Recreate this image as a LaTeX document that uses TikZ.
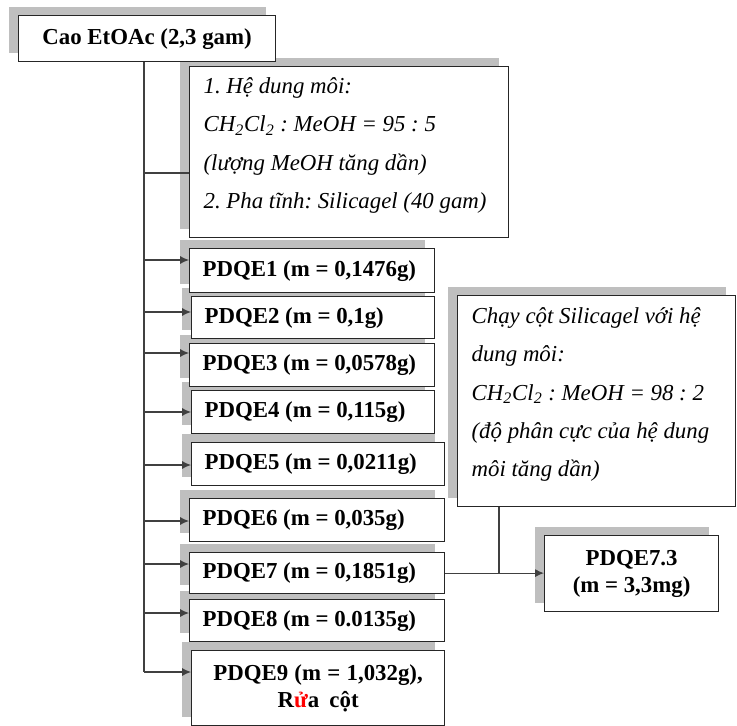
\documentclass[tikz,border=0pt]{standalone}
\usepackage{fontspec}
\setmainfont{Liberation Serif}
\usepackage{tikz}
\usetikzlibrary{shadows}
\usetikzlibrary{arrows.meta}
\usetikzlibrary{positioning}

\begin{document}
\begin{tikzpicture}[x=0.02cm,y=-0.02cm,
  font=\fontsize{13}{15.3}\selectfont,
  every node/.style={execute at begin node={\frenchspacing\spaceskip=0pt\xspaceskip=0pt}},
  sh/.style={general shadow={fill=black!25, shadow xshift=-0.19cm, shadow yshift=0.18cm}},
  rbox/.style={draw=black!85, line width=0.7pt, fill=white, sh, anchor=north west,
    font=\bfseries\fontsize{13}{15.3}\selectfont, align=center, inner sep=0pt},
  ebox/.style={draw=black!85, line width=0.7pt, fill=white, sh, anchor=north west,
    font=\bfseries\fontsize{13}{15.3}\selectfont, align=left, inner xsep=0.26cm, inner ysep=0pt, text width=#1},
  nbox/.style={draw=black!85, line width=0.7pt, fill=white, sh, anchor=north west,
    font=\itshape\fontsize{13}{21.8}\selectfont, align=left, inner xsep=0.28cm, inner ysep=0pt, text width=#1},
  conn/.style={draw=black!75, line width=0.65pt},
  arr/.style={conn, -{Latex[length=5pt,width=4.5pt]}}
  ]
\useasboundingbox (0,0) rectangle (737,726);
% fractions bottom up, so each shadow goes under the box above it
\node[ebox=4.54cm, align=center, minimum height=1.5cm] (e9) at (191,650) {PDQE9 (m = 1,032g),\\ R{\color{red}ử}a cột};
\node[ebox=4.58cm, minimum height=0.84cm] (e8) at (189,599) {PDQE8 (m = 0.0135g)};
\node[ebox=4.58cm, minimum height=0.82cm] (e7) at (189,552) {PDQE7 (m = 0,1851g)};
\node[ebox=4.58cm, minimum height=0.86cm] (e6) at (189,498) {PDQE6 (m = 0,035g)};
\node[ebox=4.54cm, minimum height=0.86cm] (e5) at (191,442) {PDQE5 (m = 0,0211g)};
\node[ebox=4.34cm, minimum height=0.86cm] (e4) at (191,390) {PDQE4 (m = 0,115g)};
\node[ebox=4.38cm, minimum height=0.86cm] (e3) at (189,343) {PDQE3 (m = 0,0578g)};
\node[ebox=4.34cm, minimum height=0.84cm] (e2) at (191,296) {PDQE2 (m = 0,1g)};
\node[ebox=4.38cm, minimum height=0.88cm] (e1) at (189,248) {PDQE1 (m = 0,1476g)};
\node[nbox=5.82cm, text height=0.54cm, text depth=2.88cm] (cond) at (189,66) {1. Hệ dung môi:\\ CH\textsubscript{2}Cl\textsubscript{2} : MeOH = 95 : 5\\ (lượng MeOH tăng dần)\\ 2. Pha tĩnh: Silicagel (40 gam)};
\node[rbox, minimum width=5.14cm, minimum height=0.92cm] (cao) at (18,15) {Cao EtOAc (2,3 gam)};
\node[nbox=5.0cm, text height=0.56cm, text depth=3.66cm] (col) at (457,295) {Chạy cột Silicagel với hệ\\ dung môi:\\ CH\textsubscript{2}Cl\textsubscript{2} : MeOH = 98 : 2\\ (độ phân cực của hệ dung\\ môi tăng dần)};
\node[rbox, minimum width=3.48cm, minimum height=1.52cm] (e73) at (544,535) {PDQE7.3\\ (m = 3,3mg)};

\coordinate (trunk) at (cao.south -| 144,0);
\draw[conn] (trunk) -- (trunk |- 0,672);
\draw[conn] (trunk |- 0,173) -- (cond.west |- 0,173);
\foreach \b/\y in {e1/260, e2/312, e3/353, e4/412, e5/465, e6/521, e7/564, e8/613, e9/672}
  \draw[arr] (trunk |- 0,\y) -- (\b.west |- 0,\y);
\draw[conn] (col.south -| 499,0) -- (e7.east -| 499,0);
\draw[arr] (e7.east) -- (e73.west |- e7.east);
\end{tikzpicture}
\end{document}
